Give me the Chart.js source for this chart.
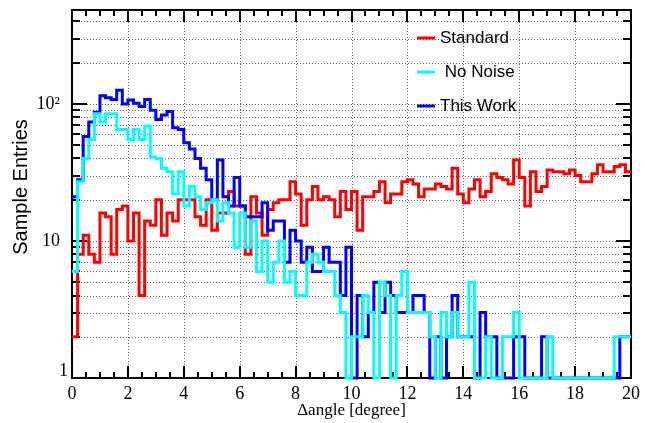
<!DOCTYPE html>
<html>
<head>
<meta charset="utf-8">
<script src="https://cdn.jsdelivr.net/npm/chart.js@4.4.1/dist/chart.umd.min.js"></script>
<style>
    html, body { margin: 0; padding: 0; background: #fff; }
    #wrap { width: 645px; height: 423px; }
</style>
</head>
<body>
<div id="wrap"><canvas id="histo" width="645" height="423"></canvas></div>
<script>
// binning of the histograms (100 bins over 0..20 degree)
const xMin = 0;
const xMax = 20;
const nBins = 100;

// bin contents
const standard = [2, 8, 11, 8, 7, 16, 15, 8, 17, 18,
    10, 16, 4, 14, 13, 20, 11, 16, 14, 20,
    20, 20, 15, 13, 20, 12, 16, 16, 23, 18,
    18, 8, 21, 16, 11, 17, 19, 20, 20, 27,
    22, 13, 20, 25, 20, 21, 20, 15, 23, 17,
    23, 12, 21, 21, 23, 27, 19, 22, 22, 27,
    28, 26, 21, 24, 24, 26, 25, 24, 34, 22,
    19, 24, 28, 21, 23, 31, 29, 28, 26, 39,
    29, 18, 32, 23, 25, 33, 32, 32, 31, 33,
    30, 27, 27, 31, 36, 32, 32, 35, 36, 32];

const noNoise = [6, 27, 40, 55, 85, 74, 85, 85, 65, 65,
    55, 65, 55, 69, 41, 40, 34, 32, 22, 32,
    18, 25, 21, 17, 19, 20, 14, 19, 16, 9,
    16, 9, 14, 6, 10, 5, 7, 10, 5, 6,
    4, 4, 7, 8, 7, 6, 6, 4, 3, 1,
    2, 2, 4, 3, 1, 5, 4, 1, 4, 6,
    3, 3, 3, 3, 2, 1, 3, 2, 3, 2,
    2, 5, 1, 1, 2, 1, 1, 2, 2, 3,
    1, 1, 1, 1, 1, 2, 1, 1, 1, 1,
    1, 1, 1, 1, 1, 1, 1, 2, 2, 2];

const thisWork = [21, 28, 58, 74, 87, 115, 111, 108, 126, 100,
    107, 101, 96, 108, 90, 77, 83, 88, 67, 65,
    52, 47, 40, 34, 28, 20, 39, 21, 18, 29,
    18, 15, 15, 15, 19, 12, 14, 14, 7, 12,
    10, 7, 9, 6, 6, 9, 7, 7, 4, 9,
    1, 4, 2, 3, 5, 3, 5, 4, 3, 3,
    3, 4, 4, 3, 1, 2, 1, 2, 4, 2,
    2, 2, 1, 3, 2, 2, 1, 1, 1, 2,
    2, 1, 1, 1, 2, 1, 1, 1, 1, 1,
    1, 1, 1, 1, 1, 1, 1, 1, 2, 2];

const seriesNames = ['Standard', ' No Noise', 'This Work'];
const seriesColors = ['#ff0000', '#00ffff', '#0000ff'];

const xTickLabels = [0, 2, 4, 6, 8, 10, 12, 14, 16, 18, 20];
const yLabelValues = [1, 10, 100];
const yLabelTexts = ['1', '10', '10\u00b2'];
const yMin = 1;
const yMax = 485;

// step histogram: each bin value held from its low edge to the next edge
function toSteps(values) {
    const w = (xMax - xMin) / values.length;
    const pts = values.map((v, i) => ({ x: xMin + i * w, y: v }));
    pts.push({ x: xMax, y: values[values.length - 1] });
    return pts;
}

function logTicks(lo, hi) {
    const out = [];
    for (let e = 1; e <= hi; e *= 10) {
        for (let m = 1; m <= 9; m++) {
            const v = m * e;
            if (v >= lo && v <= hi) out.push(v);
        }
    }
    return out;
}

const yTicks = logTicks(yMin, yMax);
const xMinor = [];
for (let v = xMin; v <= xMax + 1e-9; v += 0.5) xMinor.push(v);

const rootStyle = {
    id: 'rootStyle',
    beforeDatasetsDraw(chart) {
        const { ctx, chartArea: a, scales: { x, y } } = chart;
        ctx.save();

        // dotted grid
        ctx.strokeStyle = '#666';
        ctx.lineWidth = 1;
        ctx.setLineDash([1, 2]);
        ctx.beginPath();
        xTickLabels.slice(1, -1).forEach(v => {
            const px = Math.round(x.getPixelForValue(v)) + 0.5;
            ctx.moveTo(px, a.top);
            ctx.lineTo(px, a.bottom);
        });
        yTicks.slice(1).forEach(v => {
            const py = Math.round(y.getPixelForValue(v)) + 0.5;
            ctx.moveTo(a.left, py);
            ctx.lineTo(a.right, py);
        });
        ctx.stroke();
        ctx.setLineDash([]);

        // frame
        ctx.strokeStyle = '#000';
        ctx.lineWidth = 2;
        ctx.strokeRect(a.left, a.top, a.right - a.left, a.bottom - a.top);

        // ticks on all four sides, pointing inward
        ctx.beginPath();
        xMinor.forEach(v => {
            const px = Math.round(x.getPixelForValue(v));
            const len = xTickLabels.includes(v) ? 12 : 6;
            ctx.moveTo(px, a.bottom);
            ctx.lineTo(px, a.bottom - len);
            ctx.moveTo(px, a.top);
            ctx.lineTo(px, a.top + len);
        });
        yTicks.forEach(v => {
            const py = Math.round(y.getPixelForValue(v));
            const len = yLabelValues.includes(v) ? 15 : 8;
            ctx.moveTo(a.left, py);
            ctx.lineTo(a.left + len, py);
            ctx.moveTo(a.right, py);
            ctx.lineTo(a.right - len, py);
        });
        ctx.stroke();
        ctx.restore();
    },
    afterDraw(chart) {
        const { ctx, chartArea: a, scales: { y } } = chart;
        ctx.save();
        ctx.fillStyle = '#000';

        // y labels, ROOT style ("1" sits a little higher and to the right)
        ctx.font = '18px "Liberation Serif"';
        ctx.textAlign = 'right';
        ctx.textBaseline = 'middle';
        yLabelValues.forEach((v, i) => {
            const py = y.getPixelForValue(v);
            if (v === 1) {
                ctx.fillText(yLabelTexts[i], 68, py - 7);
            } else {
                ctx.fillText(yLabelTexts[i], 60, py);
            }
        });

        // axis titles
        ctx.textAlign = 'center';
        ctx.font = '17px "Liberation Serif"';
        ctx.fillText('\u0394angle [degree]', (a.left + a.right) / 2, 411);

        ctx.font = '20px "Liberation Sans"';
        ctx.translate(21, 187);
        ctx.rotate(-Math.PI / 2);
        ctx.fillText('Sample Entries', 0, 0);
        ctx.setTransform(1, 0, 0, 1, 0, 0);

        // legend
        ctx.font = '17px "Liberation Sans"';
        ctx.textAlign = 'left';
        seriesNames.forEach((name, i) => {
            const ly = 38 + i * 34;
            ctx.strokeStyle = seriesColors[i];
            ctx.lineWidth = 3;
            ctx.beginPath();
            ctx.moveTo(417, ly);
            ctx.lineTo(435, ly);
            ctx.stroke();
            ctx.fillStyle = '#000';
            ctx.fillText(name, 440, ly);
        });
        ctx.restore();
    }
};

function makeDataset(label, values, color, order) {
    return {
        label: label,
        data: toSteps(values),
        borderColor: color,
        borderWidth: 3,
        stepped: 'before',
        pointRadius: 0,
        fill: false,
        clip: 4,
        order: order
    };
}

document.addEventListener('DOMContentLoaded', function () {
    const ctx = document.getElementById('histo').getContext('2d');
    new Chart(ctx, {
        type: 'line',
        data: {
            datasets: [
                makeDataset(seriesNames[0], standard, seriesColors[0], 3),
                makeDataset(seriesNames[1], noNoise, seriesColors[1], 1),
                makeDataset(seriesNames[2], thisWork, seriesColors[2], 2)
            ]
        },
        options: {
            responsive: false,
            animation: false,
            devicePixelRatio: 1,
            layout: { padding: { top: 10, right: 12, left: 0, bottom: 0 } },
            plugins: {
                legend: { display: false },
                tooltip: { enabled: false }
            },
            scales: {
                x: {
                    type: 'linear',
                    min: xMin,
                    max: xMax,
                    afterFit: s => { s.height = 45; },
                    afterBuildTicks: s => { s.ticks = xTickLabels.map(v => ({ value: v })); },
                    grid: { display: false, drawTicks: false },
                    border: { display: false },
                    ticks: {
                        autoSkip: false,
                        maxRotation: 0,
                        padding: 5,
                        color: '#000',
                        font: { family: 'Liberation Serif', size: 18 },
                        callback: v => String(v)
                    }
                },
                y: {
                    type: 'logarithmic',
                    min: yMin,
                    max: yMax,
                    afterFit: s => { s.width = 72; },
                    afterBuildTicks: s => { s.ticks = yTicks.map(v => ({ value: v })); },
                    grid: { display: false, drawTicks: false },
                    border: { display: false },
                    ticks: { display: false }
                }
            }
        },
        plugins: [rootStyle]
    });
});
</script>
</body>
</html>
